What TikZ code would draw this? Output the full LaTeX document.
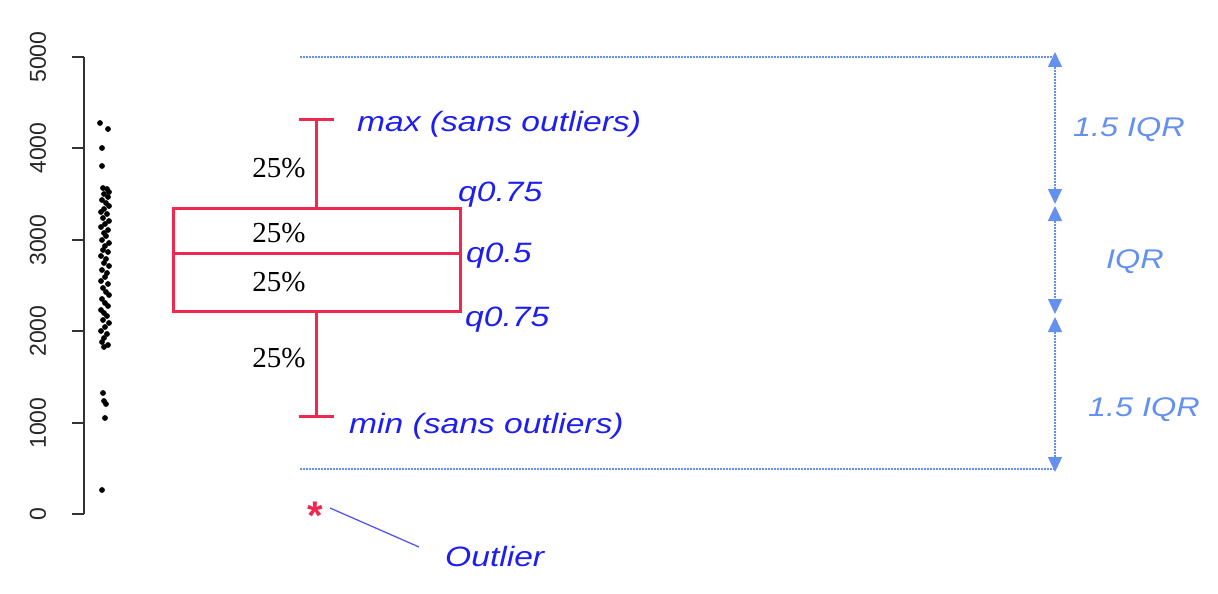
\documentclass[tikz,border=0pt]{standalone}
\usepackage{fontspec}
\setmainfont{Liberation Sans}
\newfontfamily\seriffam{Liberation Serif}
\usetikzlibrary{arrows.meta}
\definecolor{bxred}{RGB}{240,40,80}
\definecolor{lblue}{RGB}{100,145,240}
\definecolor{dblue}{RGB}{30,30,240}
\newcommand\stretchtxt[1]{\scalebox{1.2}[1]{#1}}
\begin{document}
\begin{tikzpicture}[x=1pt,y=-1pt,
  ticklbl/.style={rotate=90,font=\fontsize{23}{24}\selectfont,text=black!85,inner sep=0pt},
  pct/.style={font=\seriffam\fontsize{29}{30}\selectfont,inner sep=0pt},
  qlbl/.style={font=\itshape\fontsize{28}{30}\selectfont,text=dblue,inner sep=0pt,anchor=west},
  iqrlbl/.style={font=\itshape\fontsize{27}{30}\selectfont,text=lblue,inner sep=0pt},
  redline/.style={draw=bxred,line width=3pt},
  guide/.style={draw=lblue,line width=1.3pt,dash pattern=on 2pt off 1pt},
  dimarrow/.style={guide,{Triangle[width=14pt,length=15pt,fill=lblue]}-{Triangle[width=14pt,length=15pt,fill=lblue]}},
  dot/.style={fill=black}
]
\useasboundingbox (0,0) rectangle (1218,594);

% axis
\coordinate (ax0) at (84,514);
\coordinate (ax5) at (84,57);
\draw[line width=1.8pt,black!80] (ax0) -- (ax5);
\foreach \v/\yy in {0/514,1000/423,2000/331,3000/240,4000/148,5000/57}{
  \draw[line width=1.8pt,black!80] (72,\yy) -- (84,\yy);
  \node[ticklbl] (t\v) at (38,\yy) {\v};
}

% data points
\foreach \px/\py in {100/123,108/129,102/148,102/166,
  103/188,107/189,109/192,104/194,108/197,102/200,106/203,109/206,104/209,101/212,107/214,103/218,109/221,105/224,101/227,108/230,104/233,106/236,102/240,109/243,105/246,103/250,108/252,101/256,106/259,104/263,109/266,102/270,107/273,105/277,101/281,108/284,103/288,106/292,109/295,102/299,105/303,108/306,101/310,104/313,107/316,103/320,109/323,105/327,101/331,107/334,104/338,102/342,108/345,104/347,
  103/393,104/401,106/404,105/418,102/490}{
  \fill[dot] (\px,\py) circle (2.9);
}

% box plot
\coordinate (bxtl) at (173,208);
\coordinate (bxbr) at (460,311);
\coordinate (mdl) at (173,253);
\coordinate (mdr) at (460,253);
\coordinate (wtop) at (316,119);
\coordinate (wbot) at (316,416);
\coordinate (btop) at (316,208);
\coordinate (bbot) at (316,311);
\draw[redline] (bxtl) rectangle (bxbr);
\draw[redline] (mdl) -- (mdr);
\draw[redline] (btop) -- (wtop);
\draw[redline] (bbot) -- (wbot);
\draw[redline] (299,119) -- (334,119);
\draw[redline] (299,416) -- (334,416);

% percent labels
\node[pct] (p1) at (279,168) {25\%};
\node[pct] (p2) at (279,233) {25\%};
\node[pct] (p3) at (279,282) {25\%};
\node[pct] (p4) at (279,358) {25\%};

% quantile labels
\node[qlbl] (lmax) at (357,124) {\stretchtxt{max (sans outliers)}};
\node[qlbl] (lq75) at (458,195) {\stretchtxt{q0.75}};
\node[qlbl] (lq50) at (466,256) {\stretchtxt{q0.5}};
\node[qlbl] (lq25) at (465,320) {\stretchtxt{q0.75}};
\node[qlbl] (lmin) at (349,426) {\stretchtxt{min (sans outliers)}};

% outlier
\node[text=bxred,font=\fontsize{40}{40}\selectfont\bfseries,inner sep=0pt,anchor=base] (star) at (315,529) {*};
\node[qlbl] (lout) at (445,556) {\stretchtxt{Outlier}};
\coordinate (os) at (330,508);
\coordinate (oe) at (419,547);
\draw[draw=dblue!75,line width=1.3pt] (os) -- (oe);

% IQR guides
\coordinate (g1l) at (300,57);
\coordinate (g1r) at (1055,57);
\coordinate (g2l) at (300,469);
\coordinate (g2r) at (1055,469);
\draw[guide] (g1l) -- (g1r);
\draw[guide] (g2l) -- (g2r);
\coordinate (a1) at (1055,52);
\coordinate (a2) at (1055,204);
\coordinate (a3) at (1055,206);
\coordinate (a4) at (1055,314);
\coordinate (a5) at (1055,317);
\coordinate (a6) at (1055,472);
\draw[dimarrow] (a1) -- (a2);
\draw[dimarrow] (a3) -- (a4);
\draw[dimarrow] (a5) -- (a6);
\node[iqrlbl] (i1) at (1129,130) {\stretchtxt{1.5 IQR}};
\node[iqrlbl] (i2) at (1135,262) {\stretchtxt{IQR}};
\node[iqrlbl] (i3) at (1144,410) {\stretchtxt{1.5 IQR}};
\end{tikzpicture}
\end{document}
